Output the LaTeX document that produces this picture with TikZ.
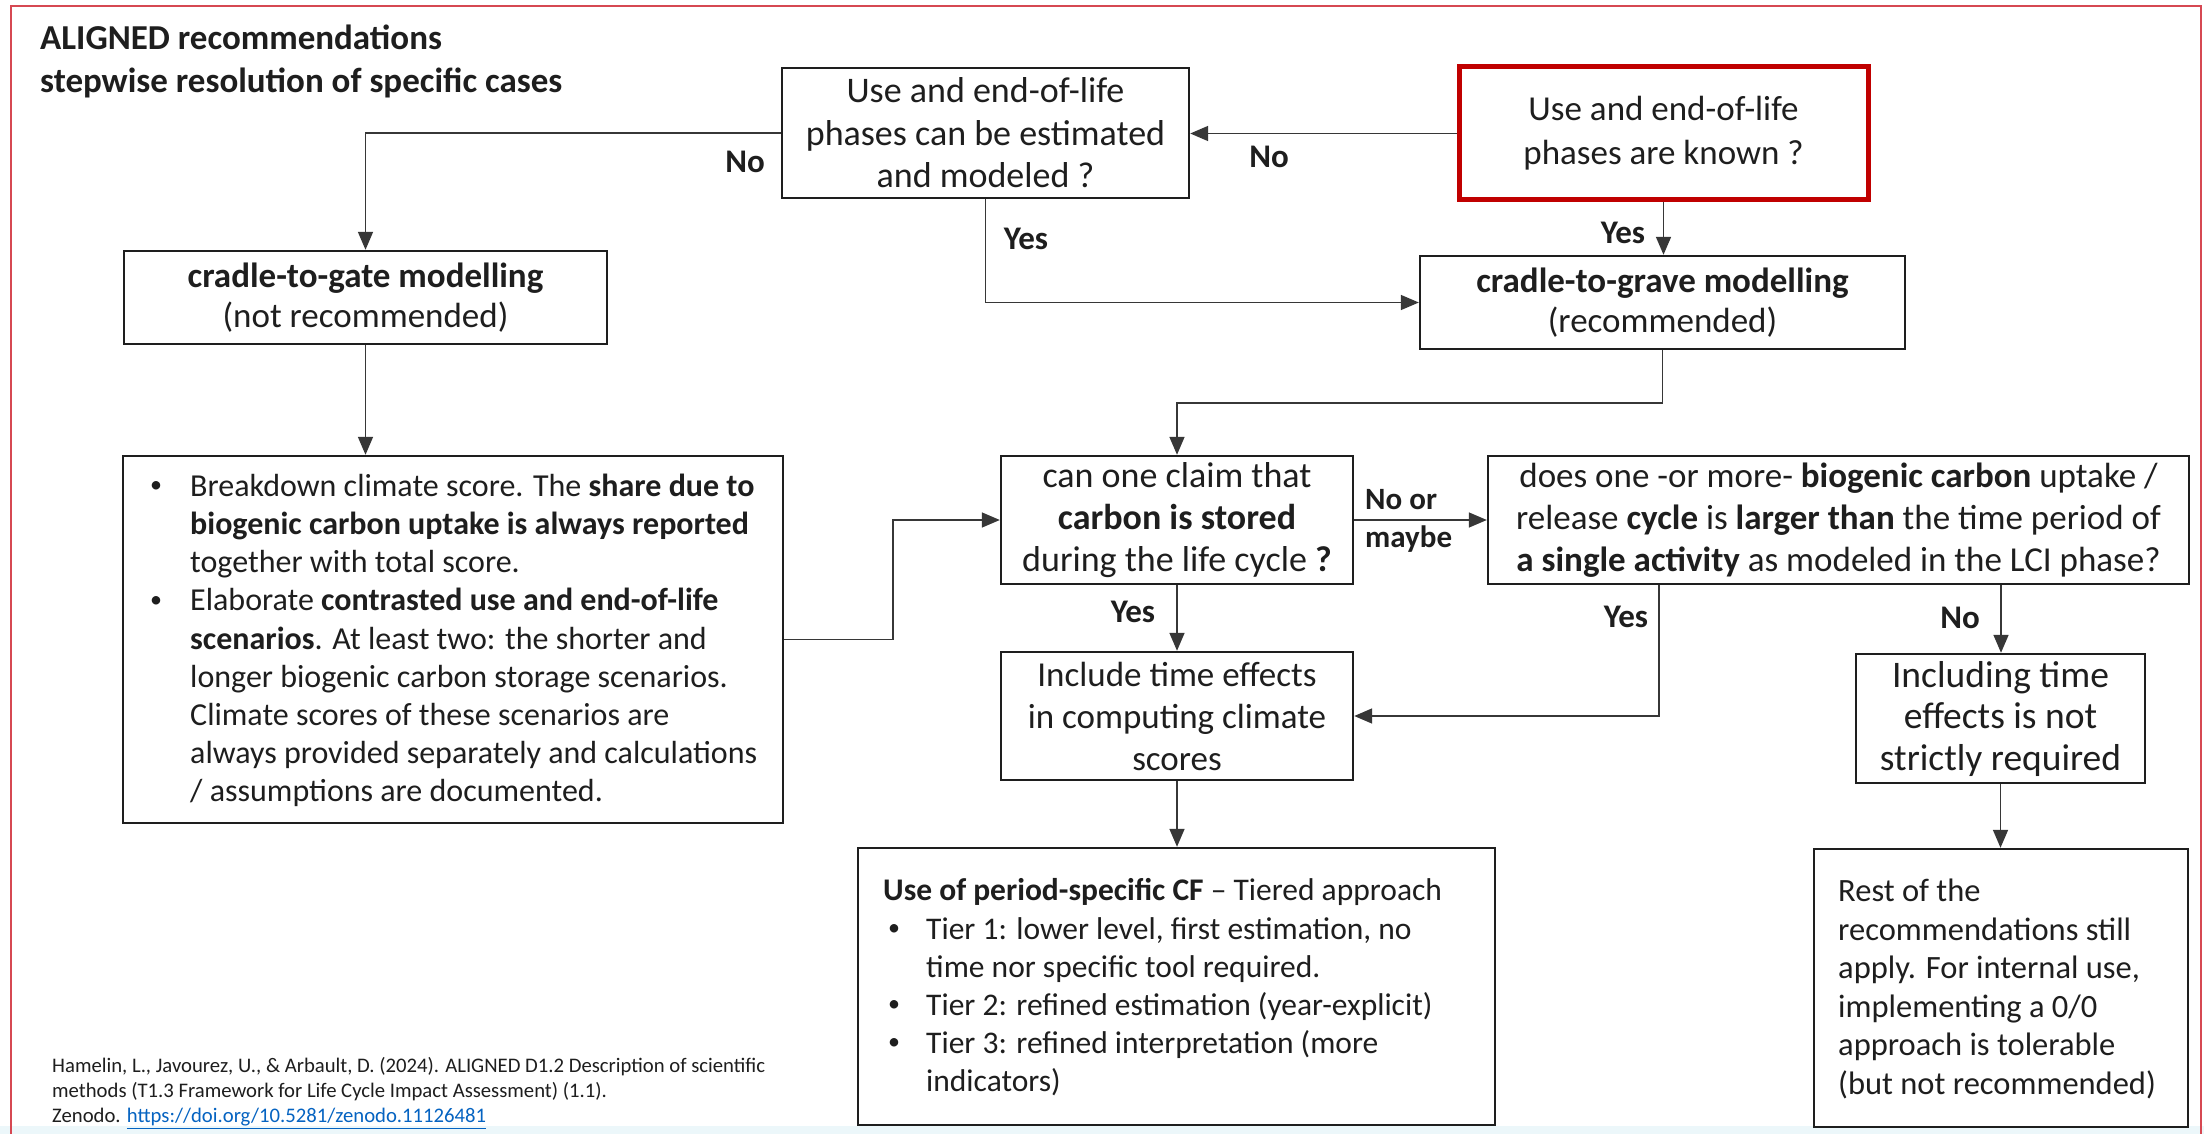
\documentclass[tikz,border=0pt]{standalone}
\usepackage{fontspec}
\setmainfont{Carlito}
\usetikzlibrary{arrows.meta}
\definecolor{frameRed}{RGB}{214,72,82}
\definecolor{boxRed}{RGB}{192,0,0}
\definecolor{ink}{RGB}{30,30,30}
\definecolor{linkBlue}{RGB}{5,99,193}
\definecolor{lineGray}{RGB}{55,55,55}
\definecolor{bandCyan}{RGB}{236,247,250}
\newcommand\mybul{\raisebox{0.12em}{\fontsize{24}{24}\selectfont •}}
\begin{document}
\begin{tikzpicture}[x=1pt,y=-1pt,
  box/.style={draw=ink, line width=2.4pt, inner sep=0pt, align=center, text=ink},
  redbox/.style={box, draw=boxRed, line width=5pt},
  conn/.style={draw=lineGray, line width=1.6pt, -{Triangle[length=18pt,width=15pt]}},
  lbl/.style={font=\fontsize{33}{38}\selectfont\bfseries, text=ink, inner sep=0pt},
  body/.style={text=ink, inner sep=0pt, align=left},
]
\useasboundingbox (0,0) rectangle (2204,1134);
\fill[white] (0,0) rectangle (2204,1134);
\fill[bandCyan] (0,1126) rectangle (2204,1134);
\draw[frameRed, line width=2.5pt] (11,1134) -- (11,6) -- (2201,6) -- (2201,1134);

% title
\node[anchor=base west, inner sep=0pt, text=ink, font=\fontsize{35}{40}\selectfont\bfseries] (title1) at (40,50) {ALIGNED recommendations};
\node[anchor=base west, inner sep=0pt, text=ink, font=\fontsize{35}{40}\selectfont\bfseries] (title2) at (40,93) {stepwise resolution of specific cases};

% boxes
\node[box, font=\fontsize{36}{42.5}\selectfont, minimum width=407pt, minimum height=130pt] (A) at (985.5,133) {Use and end-of-life\\phases can be estimated\\and modeled ?};
\node[redbox, font=\fontsize{35}{44}\selectfont, minimum width=409pt, minimum height=133pt] (B) at (1663.5,133.5) {Use and end-of-life\\phases are known ?};
\node[box, font=\fontsize{35}{40}\selectfont, minimum width=483pt, minimum height=93pt] (C) at (365.5,297.5) {\textbf{cradle-to-gate modelling}\\(not recommended)};
\node[box, font=\fontsize{35}{40}\selectfont, minimum width=485pt, minimum height=93pt] (D) at (1662.5,302.5) {\textbf{cradle-to-grave modelling}\\(recommended)};
\node[box, minimum width=660pt, minimum height=367pt] (F) at (453,639.5) {};
\node[body, anchor=west, font=\fontsize{32}{38.2}\selectfont] (Ftext) at (150,640.5) {%
\makebox[40pt][l]{\mybul}Breakdown climate score. The \textbf{share due to}\\
\hspace*{40pt}\textbf{biogenic carbon uptake is always reported}\\
\hspace*{40pt}together with total score.\\
\makebox[40pt][l]{\mybul}Elaborate \textbf{contrasted use and end-of-life}\\
\hspace*{40pt}\textbf{scenarios}. At least two: the shorter and\\
\hspace*{40pt}longer biogenic carbon storage scenarios.\\
\hspace*{40pt}Climate scores of these scenarios are\\
\hspace*{40pt}always provided separately and calculations\\
\hspace*{40pt}/ assumptions are documented.};
\node[box, font=\fontsize{36}{42}\selectfont, minimum width=352pt, minimum height=128pt] (E) at (1177,520) {can one claim that\\\textbf{carbon is stored}\\during the life cycle \textbf{?}};
\node[box, font=\fontsize{35}{42}\selectfont, minimum width=701pt, minimum height=128pt] (G) at (1838.5,520) {does one -or more- \textbf{biogenic carbon} uptake /\\release \textbf{cycle} is \textbf{larger than} the time period of\\\textbf{a single activity} as modeled in the LCI phase?};
\node[box, font=\fontsize{35}{42}\selectfont, minimum width=352pt, minimum height=128pt] (I) at (1177,716) {Include time effects\\in computing climate\\scores};
\node[box, font=\fontsize{37.5}{41.5}\selectfont, minimum width=289pt, minimum height=129pt] (H) at (2000.5,718.5) {Including time\\effects is not\\strictly required};
\node[box, minimum width=637pt, minimum height=277pt] (J) at (1176.5,986.5) {};
\node[body, anchor=west, font=\fontsize{31.5}{38.2}\selectfont] (Jtext) at (883,987.5) {%
\textbf{Use of period-specific CF} – Tiered approach\\
\hspace*{5pt}\makebox[38pt][l]{\mybul}Tier 1: lower level, first estimation, no\\
\hspace*{43pt}time nor specific tool required.\\
\hspace*{5pt}\makebox[38pt][l]{\mybul}Tier 2: refined estimation (year-explicit)\\
\hspace*{5pt}\makebox[38pt][l]{\mybul}Tier 3: refined interpretation (more\\
\hspace*{43pt}indicators)};
\node[box, minimum width=374pt, minimum height=278pt] (K) at (2001,988) {};
\node[body, anchor=west, font=\fontsize{32.5}{38.5}\selectfont] (Ktext) at (1838,989) {Rest of the\\recommendations still\\apply. For internal use,\\implementing a 0/0\\approach is tolerable\\(but not recommended)};

% citation
\node[anchor=west, inner sep=0pt, align=left, text=ink, font=\fontsize{20.7}{25}\selectfont] (cite) at (52,1093) {Hamelin, L., Javourez, U., \& Arbault, D. (2024). ALIGNED D1.2 Description of scientific\\methods (T1.3 Framework for Life Cycle Impact Assessment) (1.1).\\Zenodo. \textcolor{linkBlue}{\underline{https://doi.org/10.5281/zenodo.11126481}}};

% connectors
\path (G.south) ++(-179.5,0) coordinate (gyes);
\path (G.south) ++(162.5,0) coordinate (gno);
\draw[conn] (B.west) -- (B.west -| A.east);
\draw[conn] (A.west) -| (C.north);
\draw[conn] (A.south) |- (D.west);
\draw[conn] (B.south) -- (B.south |- D.north);
\draw[conn] (D.south) -- ++(0,53) -| (E.north);
\draw[conn] (C.south) -- (C.south |- F.north);
\draw[conn] (F.east) -- ++(109,0) |- (E.west);
\draw[conn] (E.east) -- (G.west);
\draw[conn] (E.south) -- (I.north);
\draw[conn] (gyes) |- (I.east);
\draw[conn] (gno) -- (gno |- H.north);
\draw[conn] (I.south) -- (I.south |- J.north);
\draw[conn] (H.south) -- (H.south |- K.north);

% labels
\node[lbl] (l1) at (1269,157) {No};
\node[lbl] (l2) at (745,162) {No};
\node[lbl] (l3) at (1026,239) {Yes};
\node[lbl] (l4) at (1623,233) {Yes};
\node[lbl, anchor=west, align=left, font=\fontsize{31}{38}\selectfont\bfseries] (l5) at (1365,521) {No or\\maybe};
\node[lbl] (l6) at (1133,612) {Yes};
\node[lbl] (l7) at (1626,617) {Yes};
\node[lbl] (l8) at (1960,618) {No};
\end{tikzpicture}
\end{document}
